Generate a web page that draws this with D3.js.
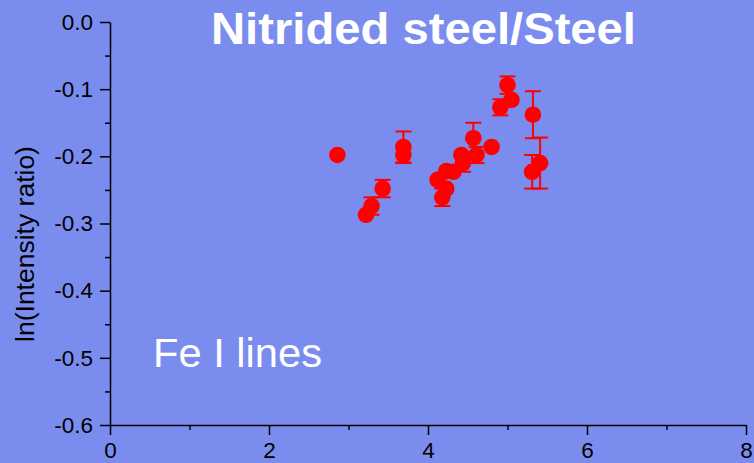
<!DOCTYPE html>
<html>
<head>
<meta charset="utf-8">
<script src="https://cdn.jsdelivr.net/npm/d3@7"></script>
<style>
  html, body { margin: 0; padding: 0; background: #7b8cef; }
  svg { display: block; }
  text { font-family: "Liberation Sans", Arial, Helvetica, sans-serif; }
</style>
</head>
<body>
<svg id="chart" width="754" height="463"></svg>
<script>
// Upper-level energy (eV) of each Fe I line
const energy = [2.86, 3.22, 3.29, 3.43, 3.69, 3.69, 4.12, 4.18, 4.23, 4.23, 4.32,
                4.42, 4.44, 4.57, 4.61, 4.80, 4.91, 5.00, 5.05, 5.32, 5.31, 5.41];
// ln of the nitrided-steel / steel intensity ratio
const lnRatio = [-0.198, -0.287, -0.274, -0.248, -0.186, -0.198, -0.235, -0.261, -0.222, -0.248, -0.223,
                 -0.198, -0.210, -0.173, -0.198, -0.186, -0.127, -0.094, -0.116, -0.138, -0.223, -0.210];
// half-width of the error bar for each line
const lnError = [0, 0, 0.013, 0.013, 0.023, 0.012, 0, 0.013, 0, 0, 0,
                 0, 0.013, 0.023, 0.012, 0, 0.012, 0.013, 0, 0.035, 0.025, 0.038];

const xMajor = [0, 2, 4, 6, 8];
const xMinor = [1, 3, 5, 7];
const yMajor = [-0.6, -0.5, -0.4, -0.3, -0.2, -0.1, 0.0];
const yMinor = [-0.55, -0.45, -0.35, -0.25, -0.15, -0.05];

const titleText = "Nitrided steel/Steel";
const noteText = "Fe I lines";
const yTitle = "ln(Intensity ratio)";

const svg = d3.select("#chart");
const W = 754, H = 463;

svg.append("rect").attr("width", W).attr("height", H).attr("fill", "#7b8cef");

const x = d3.scaleLinear().domain([0, 8]).range([110, 746]);
const y = d3.scaleLinear().domain([-0.6, 0]).range([425, 22]);

const fmtY = d => d.toFixed(1);

// y axis (major + minor ticks, pointing outward)
svg.append("g").attr("transform", `translate(${x(0)},0)`)
  .call(d3.axisLeft(y).tickValues(yMajor).tickSize(10).tickPadding(7).tickFormat(fmtY).tickSizeOuter(0));
svg.append("g").attr("transform", `translate(${x(0)},0)`)
  .call(d3.axisLeft(y).tickValues(yMinor).tickSize(5).tickFormat("").tickSizeOuter(0))
  .select(".domain").remove();

// x axis
svg.append("g").attr("transform", `translate(0,${y(-0.6)})`)
  .call(d3.axisBottom(x).tickValues(xMajor).tickSize(10).tickPadding(7).tickFormat(d3.format("d")).tickSizeOuter(0));
svg.append("g").attr("transform", `translate(0,${y(-0.6)})`)
  .call(d3.axisBottom(x).tickValues(xMinor).tickSize(5).tickFormat("").tickSizeOuter(0))
  .select(".domain").remove();

svg.selectAll(".domain, .tick line").attr("stroke", "#000").attr("stroke-width", 1.5);
svg.selectAll(".tick text").attr("fill", "#000").attr("font-size", 22.5)
  .attr("font-family", '"Liberation Sans", Arial, sans-serif');

// y axis title
svg.append("text")
  .attr("transform", "translate(34,244) rotate(-90)")
  .attr("text-anchor", "middle")
  .attr("font-size", 26.5)
  .attr("fill", "#000")
  .text(yTitle);

// chart title and note
svg.append("text")
  .attr("x", 211).attr("y", 44)
  .attr("font-size", 44).attr("font-weight", "bold")
  .attr("textLength", 425).attr("lengthAdjust", "spacingAndGlyphs")
  .attr("fill", "#fff")
  .text(titleText);

svg.append("text")
  .attr("x", 153).attr("y", 367)
  .attr("font-size", 41)
  .attr("textLength", 169).attr("lengthAdjust", "spacingAndGlyphs")
  .attr("fill", "#fff")
  .text(noteText);

// data
const pts = energy.map((e, i) => ({ e, v: lnRatio[i], err: lnError[i] }));
const capHalf = 8;

const bars = svg.append("g").attr("stroke", "#f00").attr("stroke-width", 2);
pts.filter(d => d.err > 0).forEach(d => {
  const cx = x(d.e), top = y(d.v + d.err), bot = y(d.v - d.err);
  bars.append("line").attr("x1", cx).attr("x2", cx).attr("y1", top).attr("y2", bot);
  bars.append("line").attr("x1", cx - capHalf).attr("x2", cx + capHalf).attr("y1", top).attr("y2", top);
  bars.append("line").attr("x1", cx - capHalf).attr("x2", cx + capHalf).attr("y1", bot).attr("y2", bot);
});

svg.append("g").selectAll("circle").data(pts).join("circle")
  .attr("cx", d => x(d.e))
  .attr("cy", d => y(d.v))
  .attr("r", 8.3)
  .attr("fill", "#f00");
</script>
</body>
</html>
